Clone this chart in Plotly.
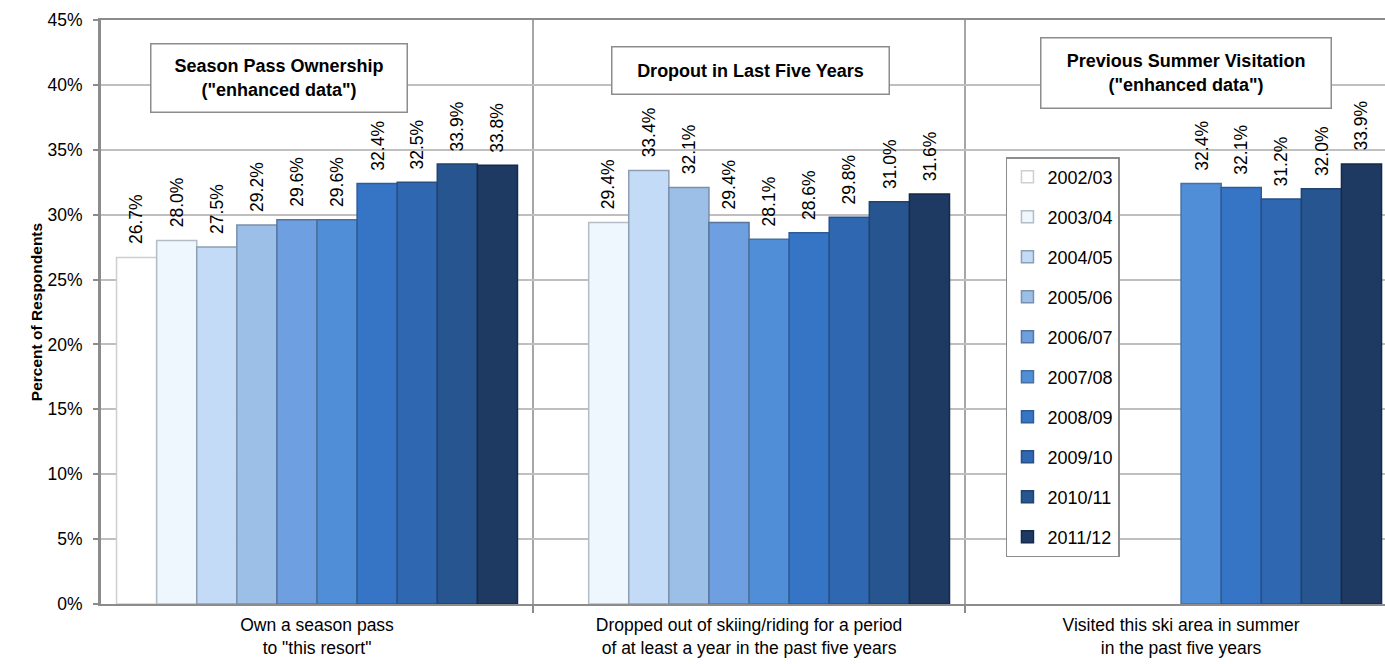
import plotly.graph_objects as go

# Survey seasons (one bar series each)
seasons = ["2002/03", "2003/04", "2004/05", "2005/06", "2006/07",
           "2007/08", "2008/09", "2009/10", "2010/11", "2011/12"]

# Category axis labels
category_labels = [
    'Own a season pass<br>to "this resort"',
    'Dropped out of skiing/riding for a period<br>of at least a year in the past five years',
    'Visited this ski area in summer<br>in the past five years',
]

# Panel headings
panel_titles = [
    'Season Pass Ownership<br>("enhanced data")',
    'Dropout in Last Five Years',
    'Previous Summer Visitation<br>("enhanced data")',
]

# Percent of respondents by season (None = not asked that season)
season_pass = [26.7, 28.0, 27.5, 29.2, 29.6, 29.6, 32.4, 32.5, 33.9, 33.8]
dropout = [None, 29.4, 33.4, 32.1, 29.4, 28.1, 28.6, 29.8, 31.0, 31.6]
summer_visit = [None, None, None, None, None, 32.4, 32.1, 31.2, 32.0, 33.9]

bar_colors = ["#ffffff", "#eef6fe", "#c4dbf7", "#9cbfe8", "#6e9fe0",
              "#518ed8", "#3674c6", "#2f67b1", "#27558f", "#1e3a62"]
edge_colors = ["#cfcfcf", "#b4bcc6", "#8d9db2", "#7a8fab", "#56759e",
               "#47709f", "#2d5c97", "#284f86", "#1f446f", "#17294a"]

FONT = "Liberation Sans, Arial"

BARGAP = 0.072
n_series = len(seasons)
slot = (1 - BARGAP) / n_series

fig = go.Figure()
annotations = []
for i, season in enumerate(seasons):
    vals = [season_pass[i], dropout[i], summer_visit[i]]
    fig.add_trace(go.Bar(
        x=[0, 1, 2], y=vals, name=season, legendgroup=season,
        marker=dict(color=bar_colors[i], line=dict(color=edge_colors[i], width=1.5)),
        hoverinfo="skip",
    ))
    for c, v in enumerate(vals):
        if v is None:
            continue
        annotations.append(dict(
            x=c + (i - (n_series - 1) / 2) * slot, y=v, xref="x", yref="y",
            text=f"{v:.1f}%", textangle=-90, showarrow=False,
            xanchor="center", yanchor="bottom", yshift=11,
            font=dict(family=FONT, size=17.5, color="#000000"),
        ))

# Boxed panel headings
heading_boxes = [
    (0.139, 0.900, 251, 63),
    (0.506, 0.913, 272, 42),
    (0.845, 0.910, 285, 65),
]
for title, (bx, by, bw, bh) in zip(panel_titles, heading_boxes):
    annotations.append(dict(
        x=bx, y=by, xref="paper", yref="paper", text=f"<b>{title}</b>",
        showarrow=False, xanchor="center", yanchor="middle",
        width=bw, height=bh, align="center", valign="middle",
        bgcolor="#ffffff", bordercolor="#8c8c8c", borderwidth=1.5, borderpad=2,
        font=dict(family=FONT, size=18, color="#000000"),
    ))

fig.update_layout(
    width=1385, height=664,
    margin=dict(l=101, r=0, t=20, b=60, autoexpand=False),
    paper_bgcolor="#ffffff", plot_bgcolor="#ffffff",
    barmode="group", bargap=BARGAP, bargroupgap=0,
    annotations=annotations,
    showlegend=True,
    legend=dict(
        xref="paper", yref="paper", x=0.7048, y=0.7654,
        xanchor="left", yanchor="top",
        bgcolor="#ffffff", bordercolor="#8c8c8c", borderwidth=1.5,
        font=dict(family=FONT, size=18, color="#000000"),
        tracegroupgap=13.6, itemwidth=30,
    ),
    xaxis=dict(
        range=[-0.5, 2.472], tickmode="array", tickvals=[0, 1, 2],
        ticktext=category_labels, ticks="", tickangle=0, ticklabelstandoff=4,
        tickfont=dict(family=FONT, size=17.5, color="#000000"),
        showgrid=False, zeroline=False,
        showline=True, linecolor="#8c8c8c", linewidth=2, mirror=True,
        minor=dict(tickmode="array", tickvals=[0.5, 1.5], showgrid=True,
                   gridcolor="#a6a6a6", gridwidth=2, ticks="outside",
                   ticklen=7, tickwidth=2, tickcolor="#8c8c8c"),
        fixedrange=True,
    ),
    yaxis=dict(
        range=[0, 45], tickmode="linear", tick0=0, dtick=5, ticksuffix="%",
        tickfont=dict(family=FONT, size=17.5, color="#000000"),
        ticks="outside", ticklen=5, tickwidth=2, tickcolor="#8c8c8c",
        ticklabelstandoff=7,
        showgrid=True, gridcolor="#bfbfbf", gridwidth=2,
        zeroline=False, showline=True, linecolor="#8c8c8c", linewidth=3,
        title=dict(text="<b>Percent of Respondents</b>", standoff=2,
                   font=dict(family=FONT, size=15.5, color="#000000")),
        fixedrange=True,
    ),
)

fig.write_html("out.html")
